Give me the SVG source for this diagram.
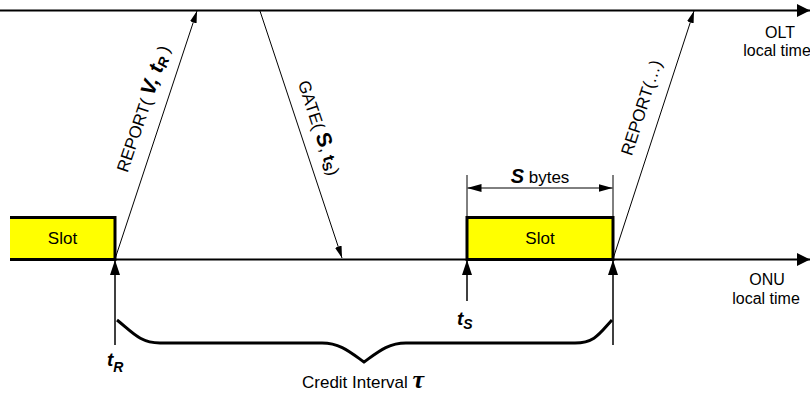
<svg xmlns="http://www.w3.org/2000/svg" width="810" height="396" viewBox="0 0 810 396">
<style>
text{font-family:"Liberation Sans",Arial,sans-serif;fill:#000}
.lbl{font-size:16px}
.lbl17{font-size:17px}
.bi{font-weight:bold;font-style:italic}
.b{font-weight:bold}
.axis{stroke:#000;stroke-width:2;fill:none}
.msg{stroke:#000;stroke-width:1;fill:none}
.up{stroke:#000;stroke-width:1.5;fill:none}
.thick{stroke:#000;stroke-width:3;fill:none}
.slot{fill:#ffff00}
</style>
<defs>
<marker id="axisHead" markerUnits="userSpaceOnUse" markerWidth="13" markerHeight="13" refX="13" refY="6.5" orient="auto"><path d="M0,0 L13,6.5 L0,13 z" fill="#000"/></marker>
<marker id="msgHead" markerUnits="userSpaceOnUse" markerWidth="12" markerHeight="7" refX="12" refY="3.5" orient="auto"><path d="M0,0 L12,3.5 L0,7 z" fill="#000"/></marker>
<marker id="upHead" markerUnits="userSpaceOnUse" markerWidth="15" markerHeight="10" refX="15" refY="5" orient="auto"><path d="M0,0 L15,5 L0,10 z" fill="#000"/></marker>
<marker id="dimHead" markerUnits="userSpaceOnUse" markerWidth="14" markerHeight="8" refX="14" refY="4" orient="auto-start-reverse"><path d="M0,0 L14,4 L0,8 z" fill="#000"/></marker>
</defs>

<g id="olt-axis">
<line class="axis" x1="0" y1="10.5" x2="810" y2="10.5" marker-end="url(#axisHead)"/>
<text class="lbl" x="780" y="38" text-anchor="middle">OLT</text>
<text class="lbl" x="777" y="56" text-anchor="middle">local time</text>
</g>

<g id="onu-axis">
<line class="axis" x1="10" y1="259.5" x2="810" y2="259.5" marker-end="url(#axisHead)"/>
<text class="lbl" x="767" y="285" text-anchor="middle">ONU</text>
<text class="lbl" x="766" y="304" text-anchor="middle">local time</text>
</g>

<g id="slot1">
<rect class="slot" x="10" y="217.5" width="105" height="42"/>
<path class="thick" d="M10,217.5 L115,217.5 L115,259.5 L10,259.5"/>
<text x="62.5" y="244" text-anchor="middle" class="lbl17">Slot</text>
</g>

<g id="slot2">
<rect class="slot thick" x="467" y="217.5" width="146" height="42" style="fill:#ffff00"/>
<text x="540" y="243.5" text-anchor="middle" class="lbl17">Slot</text>
</g>

<g id="s-bytes">
<line class="msg" x1="467" y1="175" x2="467" y2="217"/>
<line class="msg" x1="613" y1="175" x2="613" y2="217"/>
<line class="msg" x1="467.5" y1="188" x2="612.5" y2="188" marker-start="url(#dimHead)" marker-end="url(#dimHead)"/>
<text x="540" y="183" text-anchor="middle" class="lbl17"><tspan class="bi" style="font-size:20px">S</tspan> bytes</text>
</g>

<g id="connectors">
<line class="msg" x1="115" y1="259" x2="197" y2="11" marker-end="url(#msgHead)"/>
<line class="msg" x1="260" y1="11" x2="342" y2="258" marker-end="url(#msgHead)"/>
<line class="msg" x1="613" y1="259" x2="694" y2="11" marker-end="url(#msgHead)"/>
<line class="up" x1="115" y1="345" x2="115" y2="260" marker-end="url(#upHead)"/>
<line class="up" x1="467" y1="301" x2="467" y2="260" marker-end="url(#upHead)"/>
<line class="up" x1="613" y1="345" x2="613" y2="260" marker-end="url(#upHead)"/>
</g>

<g id="report1-label">
<text class="lbl17" transform="translate(148.7,110.6) rotate(-71.2)" text-anchor="middle">REPORT( <tspan class="bi" style="font-size:21px">V, t</tspan><tspan class="bi" style="font-size:14px" dy="3">R</tspan><tspan dy="-3"> )</tspan></text>
</g>

<g id="gate-label">
<text class="lbl17" transform="translate(313.3,129.6) rotate(71.6)" text-anchor="middle">GATE( <tspan class="b" style="font-size:21px">S</tspan>, <tspan class="b">t</tspan><tspan class="b" style="font-size:13px" dy="3">S</tspan><tspan dy="-3">)</tspan></text>
</g>

<g id="report2-label">
<text class="lbl17" transform="translate(646.8,109.5) rotate(-72.2)" text-anchor="middle">REPORT(…)</text>
</g>

<g id="tR-label">
<text x="107" y="366" class="bi" style="font-size:19px">t<tspan style="font-size:14px" dy="6">R</tspan></text>
</g>

<g id="tS-label">
<text x="457" y="325" class="bi" style="font-size:19px">t<tspan style="font-size:14px" dy="4">S</tspan></text>
</g>

<g id="credit-interval">
<path class="thick" d="M117,320 C132,332 140,343 160,343 L322,343 C340,343 350,352 364,362 C378,352 388,343 406,343 L575,343 C595,343 600,333 612,320"/>
<text class="lbl17" x="302" y="388">Credit Interval <tspan style="font-family:'Liberation Serif',serif;font-weight:bold;font-style:italic;font-size:26px">τ</tspan></text>
</g>
</svg>
